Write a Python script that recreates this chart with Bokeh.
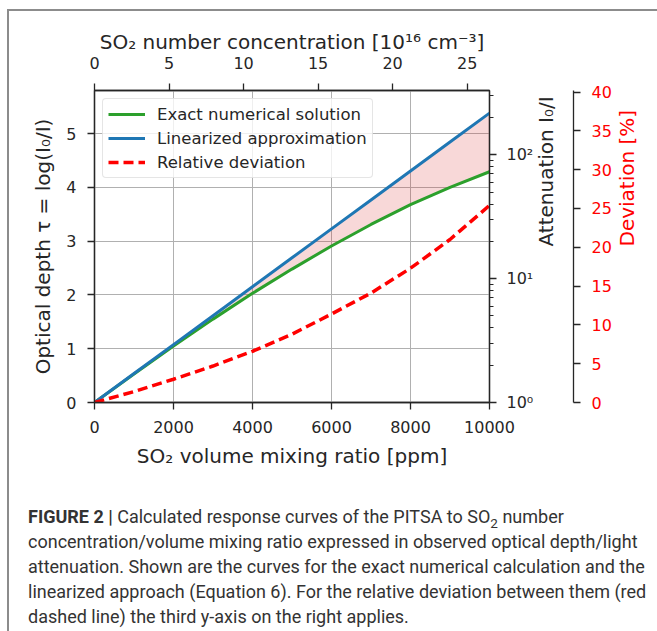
import math
from bokeh.plotting import figure
from bokeh.models import (Range1d, LinearAxis, LogAxis, LogScale, FixedTicker, Legend, LegendItem,
                          Div, InlineStyleSheet, ColumnDataSource, Grid)
from bokeh.layouts import column
from bokeh.embed import file_html
from bokeh.resources import INLINE

# ---- data ----
ppm = [0, 1000, 2000, 3000, 4000, 5000, 6000, 7000, 8000, 9000, 10000]
tau_exact = [0, 0.53, 1.05, 1.55, 2.03, 2.48, 2.91, 3.31, 3.68, 4.00, 4.29]
tau_linear = [0, 0.538, 1.076, 1.614, 2.152, 2.69, 3.228, 3.766, 4.304, 4.842, 5.38]
deviation = [0, 1.4, 3.0, 4.7, 6.6, 8.8, 11.4, 14.1, 17.3, 21.0, 25.4]

x_ticks = [0, 2000, 4000, 6000, 8000, 10000]
tau_ticks = [0, 1, 2, 3, 4, 5]
conc_ticks = [0, 5, 10, 15, 20, 25]
att_ticks = [1, 10, 100]
att_labels = ["10\u2070", "10\u00b9", "10\u00b2"]
att_minor = [2, 3, 4, 5, 6, 7, 8, 9, 20, 30, 40, 50, 60, 70, 80, 90, 200, 300]
dev_ticks = [0, 5, 10, 15, 20, 25, 30, 35, 40]

x_max = 10000
tau_max = 5.8
conc_max = 26.5
dev_max = 40.2

FONT = "DejaVu Sans"
TXT = "#262626"
TICK_PX = "16px"
LABEL_PX = "20px"

src = ColumnDataSource(dict(x=ppm, exact=tau_exact, lin=tau_linear, dev=deviation))

p = figure(width=657, height=470, output_backend="svg", toolbar_location=None,
           x_range=Range1d(0, x_max), y_range=Range1d(0, tau_max),
           x_axis_location=None, y_axis_location=None,
           min_border_left=94, min_border_right=168, min_border_top=90, min_border_bottom=67)
p.extra_x_ranges = {"conc": Range1d(0, conc_max)}
p.extra_y_ranges = {"att": Range1d(1, math.exp(tau_max)), "dev": Range1d(0, dev_max)}
p.extra_y_scales = {"att": LogScale()}

p.background_fill_color = "white"
p.border_fill_color = "white"
p.outline_line_color = TXT
p.outline_line_width = 1.3


def style_axis(ax, label_color=TXT):
    ax.axis_line_color = TXT
    ax.axis_line_width = 1.3
    ax.major_tick_line_color = TXT
    ax.major_tick_line_width = 1.3
    ax.major_tick_out = 7
    ax.major_tick_in = 0
    ax.minor_tick_line_color = TXT
    ax.minor_tick_line_width = 1.0
    ax.minor_tick_out = 0
    ax.minor_tick_in = 0
    ax.major_label_text_font = FONT
    ax.major_label_text_font_size = TICK_PX
    ax.major_label_text_color = label_color
    ax.major_label_standoff = 11
    ax.axis_label_text_font = FONT
    ax.axis_label_text_font_size = LABEL_PX
    ax.axis_label_text_font_style = "normal"
    ax.axis_label_text_color = label_color
    ax.axis_label_standoff = 8


bottom = LinearAxis(ticker=FixedTicker(ticks=x_ticks), axis_label="SO\u2082 volume mixing ratio [ppm]")
style_axis(bottom)
p.add_layout(bottom, "below")

left = LinearAxis(ticker=FixedTicker(ticks=tau_ticks), axis_label="Optical depth \u03c4 = log(I\u2080/I)")
style_axis(left)
p.add_layout(left, "left")

top = LinearAxis(x_range_name="conc", ticker=FixedTicker(ticks=conc_ticks),
                 axis_label="SO\u2082 number concentration [10\u00b9\u2076 cm\u207b\u00b3]")
style_axis(top)
top.major_label_standoff = 15
top.axis_label_standoff = 0
p.add_layout(top, "above")

att = LogAxis(y_range_name="att", ticker=FixedTicker(ticks=att_ticks, minor_ticks=att_minor),
              axis_label="Attenuation I\u2080/I")
style_axis(att)
att.minor_tick_out = 4
att.major_label_overrides = {float(t): s for t, s in zip(att_ticks, att_labels)}
att.major_label_standoff = 10
att.axis_label_standoff = 10
p.add_layout(att, "right")

dev = LinearAxis(y_range_name="dev", ticker=FixedTicker(ticks=dev_ticks), axis_label="Deviation [%]")
style_axis(dev, label_color="red")
dev.axis_label_standoff = 12
p.add_layout(dev, "right")

for ax in (att, dev):
    if "axis_label_orientation" in ax.properties():
        ax.axis_label_orientation = math.pi / 2

# grid
gx = Grid(dimension=0, ticker=FixedTicker(ticks=x_ticks), grid_line_color="#b0b0b0", grid_line_width=1)
gy = Grid(dimension=1, ticker=FixedTicker(ticks=tau_ticks), grid_line_color="#b0b0b0", grid_line_width=1)
p.add_layout(gx)
p.add_layout(gy)

# fill between and lines
p.varea(x="x", y1="exact", y2="lin", source=src, fill_color="#d62728", fill_alpha=0.18)
r_exact = p.line(x="x", y="exact", source=src, line_color="#2ca02c", line_width=3)
r_lin = p.line(x="x", y="lin", source=src, line_color="#1f77b4", line_width=3)
r_dev = p.line(x="x", y="dev", source=src, y_range_name="dev", line_color="red", line_width=3.5,
               line_dash="10 5")

legend = Legend(items=[LegendItem(label="Exact numerical solution", renderers=[r_exact]),
                       LegendItem(label="Linearized approximation", renderers=[r_lin]),
                       LegendItem(label="Relative deviation", renderers=[r_dev])],
                location="top_left")
legend.label_text_font = FONT
legend.label_text_font_size = "16.5px"
legend.label_text_color = TXT
legend.glyph_width = 37
legend.glyph_height = 20
legend.label_height = 20
legend.label_standoff = 12
legend.padding = 5
legend.spacing = 4
legend.margin = 8
legend.border_line_color = "#cccccc"
legend.border_line_width = 1
legend.background_fill_alpha = 0.8
if "border_radius" in legend.properties():
    legend.border_radius = 4
p.add_layout(legend)

caption_html = (
    "<b>FIGURE 2 |</b> Calculated response curves of the PITSA to SO"
    "<span style='font-size:0.75em; position:relative; top:0.35em; line-height:0'>2</span> number<br>"
    "concentration/volume mixing ratio expressed in observed optical depth/light<br>"
    "attenuation. Shown are the curves for the exact numerical calculation and the<br>"
    "linearized approach (Equation 6). For the relative deviation between them (red<br>"
    "dashed line) the third y-axis on the right applies."
)
cap = Div(text=caption_html, width=657, height=161, margin=(0, 0, 0, 0),
          styles={"font-family": "Roboto", "font-size": "18px", "line-height": "25px",
                  "color": "#333333", "white-space": "nowrap", "padding-left": "28px",
                  "padding-top": "34px", "box-sizing": "border-box", "background": "white"})

css = InlineStyleSheet(css=""":host { position: relative; }
:host::after { content: ""; position: absolute; left: 7px; top: 9px; width: 720px; height: 720px;
  border-top: 2px solid #8c8c8c; border-left: 2px solid #8c8c8c; pointer-events: none; z-index: 10; }""")
layout = column(p, cap, spacing=0, margin=(0, 0, 0, 0), stylesheets=[css])

open("out.html", "w").write(file_html(layout, INLINE))
